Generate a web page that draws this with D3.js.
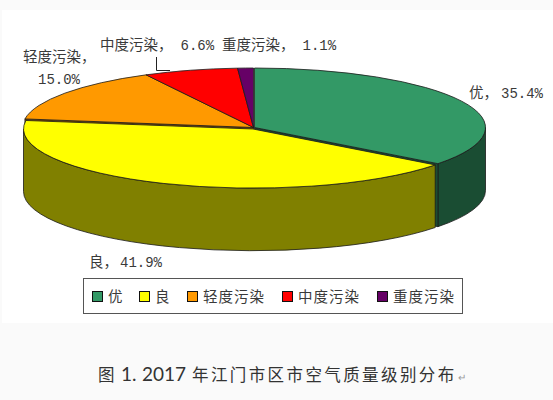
<!DOCTYPE html>
<html>
<head>
<meta charset="utf-8">
<script src="https://cdnjs.cloudflare.com/ajax/libs/d3/7.8.5/d3.min.js"></script>
<style>
html, body { margin: 0; padding: 0; background: #fafafa; }
svg { display: block; }
text { font-family: "Noto Sans CJK SC", sans-serif; fill: #3a3a3a; }
.num { font-family: "Liberation Mono", monospace; }
.latin { font-family: Lato, sans-serif; }
</style>
</head>
<body>
<div id="chart"></div>
<script>
const categories = ["优", "良", "轻度污染", "中度污染", "重度污染"];
const values = [35.4, 41.9, 15.0, 6.6, 1.1];
const topColors = ["#339966", "#ffff00", "#ff9900", "#ff0000", "#660066"];
const wallColors = ["#1a4d33", "#808000", "#804d00", "#800000", "#330033"];

const width = 553, height = 400;
const cx = 254.5, cy = 127.5, rx = 231, ry = 59.5, depth = 63;
const lineColor = "#1a1a1a", lineWidth = 0.8;

const svg = d3.select("#chart").append("svg")
    .attr("width", width)
    .attr("height", height);

// white picture of the chart sits on the greyer page
svg.append("rect")
    .attr("x", 2)
    .attr("y", 10)
    .attr("width", width - 2)
    .attr("height", 313)
    .attr("fill", "#fff");

const color = d3.scaleOrdinal().domain(categories).range(topColors);
const wall = d3.scaleOrdinal().domain(categories).range(wallColors);

const slices = d3.pie().sort(null).value(d => d.value)(
    categories.map((c, i) => ({name: c, value: values[i]}))
);

// the top faces are circles from d3.arc squashed into an ellipse
const arc = d3.arc().innerRadius(0).outerRadius(rx);

function pt(a, drop) {
    return [rx * Math.sin(a), -ry * Math.cos(a) + drop];
}

function wallPath(d) {
    const a0 = Math.max(d.startAngle, Math.PI / 2);
    const a1 = Math.min(d.endAngle, Math.PI * 1.5);
    if (a1 <= a0) return null;
    const p0 = pt(a0, 0), p1 = pt(a1, 0), p2 = pt(a1, depth), p3 = pt(a0, depth);
    return `M${p0}A${rx},${ry} 0 0 1 ${p1}L${p2}A${rx},${ry} 0 0 0 ${p3}Z`;
}

function cutPath(a) {
    const p = pt(a, 0), q = pt(a, depth);
    return `M0,0L${p}L${q}L0,${depth}Z`;
}

function outlined(sel) {
    return sel.attr("stroke", lineColor)
        .attr("stroke-width", lineWidth)
        .attr("vector-effect", "non-scaling-stroke");
}

const pie = svg.append("g").attr("transform", `translate(${cx},${cy})`);

function drawSlice(d, transform) {
    const g = pie.append("g").attr("transform", transform);
    const w = wallPath(d);
    if (w) {
        g.append("path")
            .attr("d", w)
            .attr("fill", wall(d.data.name))
            .call(outlined);
    }
    return g;
}

function drawTop(g, d) {
    g.append("g")
        .attr("transform", `scale(1,${ry / rx})`)
        .append("path")
        .attr("d", arc(d))
        .attr("fill", color(d.data.name))
        .call(outlined);
}

// back slices first, the pulled out yellow one goes last
const greenSlice = drawSlice(slices[0], null);
greenSlice.append("path").attr("d", cutPath(slices[0].endAngle))
    .attr("fill", wallColors[0]).call(outlined);
drawTop(greenSlice, slices[0]);

[2, 3, 4].forEach(i => {
    const g = drawSlice(slices[i], "translate(-1,0)");
    if (i === 2) {
        g.append("path").attr("d", cutPath(slices[i].startAngle))
            .attr("fill", wallColors[2]).call(outlined);
    }
    drawTop(g, slices[i]);
});

const yellow = drawSlice(slices[1], "translate(-1.5,1.5) scale(0.9935)");
drawTop(yellow, slices[1]);

// data labels
const pct = values.map(v => v.toFixed(1) + "%");

function label(x, y, zh, num, gap) {
    const t = svg.append("text")
        .attr("x", x)
        .attr("y", y)
        .attr("font-size", 14.5);
    t.append("tspan").text(zh);
    if (num) {
        t.append("tspan")
            .attr("class", "num")
            .attr("dx", gap)
            .attr("font-size", 14)
            .text(num);
    }
}

label(469, 98, categories[0] + "，", pct[0], 3);
label(89, 267, categories[1] + "，", pct[1], 2);
label(23, 62, categories[2] + "，");
label(38, 84, "", pct[2], 0);
label(100, 50, categories[3] + "，", pct[3], 8);
label(222, 50, categories[4] + "，", pct[4], 8);

// leader line for the red slice
svg.append("path")
    .attr("d", "M156.5,57V70.5H170")
    .attr("fill", "none")
    .attr("stroke", "#222")
    .attr("stroke-width", 1);

// legend
svg.append("rect")
    .attr("x", 83.5)
    .attr("y", 278.5)
    .attr("width", 379)
    .attr("height", 35)
    .attr("fill", "#fff")
    .attr("stroke", "#555");

const legendX = [92, 139, 187, 282, 377];
const legend = svg.selectAll(".legend")
    .data(categories)
    .join("g")
    .attr("class", "legend")
    .attr("transform", (d, i) => `translate(${legendX[i]},291)`);

legend.append("rect")
    .attr("x", 0.5).attr("y", 0.5)
    .attr("width", 10).attr("height", 10)
    .attr("fill", d => color(d))
    .attr("stroke", "#111");

legend.append("text")
    .attr("x", 16)
    .attr("y", 11)
    .attr("font-size", 14.5)
    .attr("letter-spacing", 1)
    .text(d => d);

// caption, the digits are in a wider latin face
const cap = svg.append("text").attr("y", 381).attr("font-size", 16.5).style("fill", "#333");
cap.append("tspan").attr("x", 98).text("图");
cap.append("tspan").attr("x", 121).attr("class", "latin").attr("font-size", 19).text("1.");
cap.append("tspan").attr("x", 142).attr("class", "latin").attr("font-size", 19).text("2017");
cap.append("tspan").attr("x", 192).attr("letter-spacing", 2.4).text("年江门市区市空气质量级别分布");
svg.append("text")
    .attr("x", 458)
    .attr("y", 381)
    .attr("font-size", 10)
    .style("fill", "#999")
    .text("↵");
</script>
</body>
</html>
